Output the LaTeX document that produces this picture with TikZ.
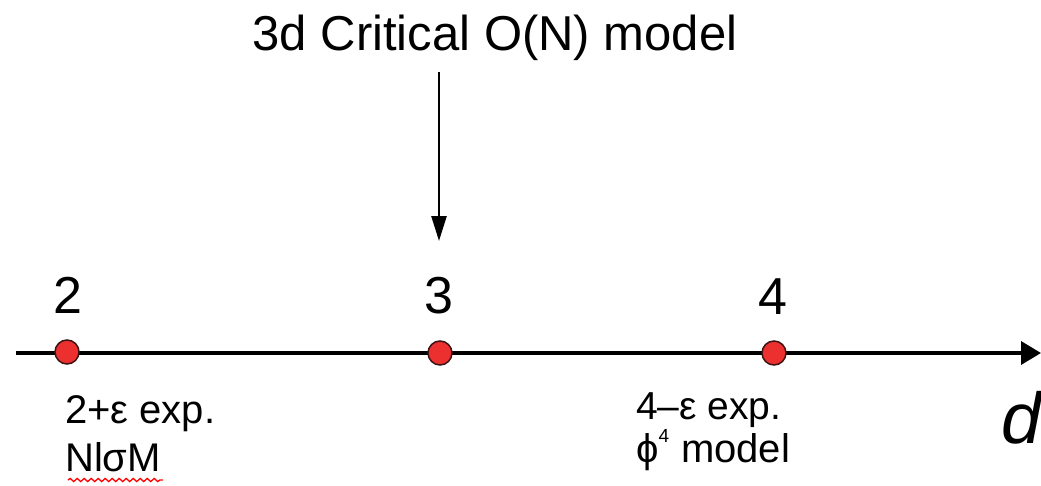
\documentclass[tikz,border=0pt]{standalone}
\usepackage{fontspec}
\setmainfont{Liberation Sans}
\usetikzlibrary{arrows.meta,decorations.pathmorphing}
\definecolor{dotred}{RGB}{236,48,48}
\definecolor{dotedge}{RGB}{60,20,20}
\begin{document}
\begin{tikzpicture}[x=1pt,y=-1pt,
  dotnode/.style={circle,fill=dotred,draw=dotedge,line width=1.5pt,minimum size=24pt,inner sep=0pt},
  numlabel/.style={inner sep=0pt,anchor=base,font=\fontsize{52}{60}\selectfont},
  leftlabel/.style={inner sep=0pt,anchor=base west,font=\fontsize{40}{48}\selectfont},
  rightlabel/.style={inner sep=0pt,anchor=base west,font=\fontsize{39}{46}\selectfont},
  axisline/.style={line width=3.6pt,-{Triangle[length=20pt,width=23pt]}},
  pointer/.style={line width=2.5pt,-{Triangle[length=25pt,width=15pt]}}]
\useasboundingbox (0,0) rectangle (1041,485);
% title and pointer
\node[inner sep=0pt,anchor=base,font=\fontsize{49}{58}\selectfont] (title) at (495,50) {3d Critical O(N) model};
\coordinate (ptop) at (439,72);
\coordinate (ptip) at (439,241);
\draw[pointer] (ptop) -- (ptip);
% axis
\coordinate (axstart) at (16,353);
\coordinate (axend) at (1041,353);
\draw[axisline] (axstart) -- (axend);
\node[inner sep=0pt,anchor=base west,font=\fontsize{72}{80}\selectfont\itshape] (dlab) at (1001,443) {d};
% points
\node[dotnode] (p2) at (67,352) {};
\node[dotnode] (p3) at (440,353) {};
\node[dotnode] (p4) at (774,353) {};
\node[numlabel] (n2) at (67.5,313) {2};
\node[numlabel] (n3) at (438.5,313) {3};
\node[numlabel] (n4) at (773,314) {4};
% lower labels
\node[leftlabel] (l1) at (65,423) {2+ε exp.};
\node[leftlabel] (l2) at (65,471) {NlσM};
\draw[red,line width=1.3pt,decorate,decoration={snake,amplitude=1.6pt,segment length=7pt}] (68,480) -- (163,480);
\node[rightlabel] (r1) at (636,419) {4–ε exp.};
\node[rightlabel,font=\fontsize{40}{46}\selectfont] (r2) at (636,462) {ϕ\raisebox{0.5em}{\fontsize{19}{19}\selectfont 4}\hspace{0.3em}model};
\end{tikzpicture}
\end{document}
